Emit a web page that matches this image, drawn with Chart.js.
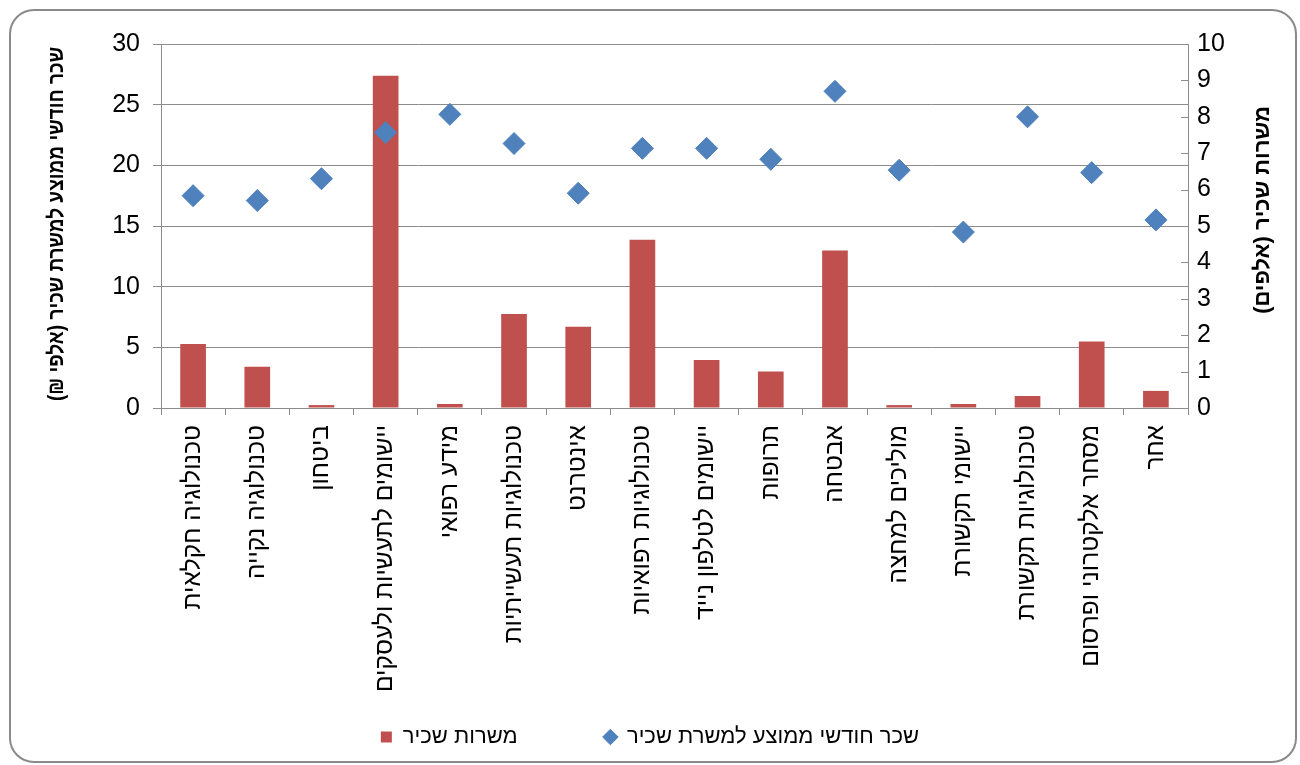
<!DOCTYPE html>
<html lang="he">
<head>
<meta charset="utf-8">
<title>משרות שכיר ושכר חודשי ממוצע לפי תחום</title>
<script src="https://cdn.jsdelivr.net/npm/chart.js@4.4.1/dist/chart.umd.min.js"></script>
<style>
  html, body { margin: 0; padding: 0; background: #fff; }
  canvas { display: block; }
</style>
</head>
<body>
<canvas id="chart" width="1300" height="765"></canvas>
<script>
// categories in the order they appear, left to right
const categories = [
  'טכנולוגיה חקלאית',
  'טכנולוגיה נקייה',
  'ביטחון',
  'יישומים לתעשיות ולעסקים',
  'מידע רפואי',
  'טכנולוגיות תעשייתיות',
  'אינטרנט',
  'טכנולוגיות רפואיות',
  'יישומים לטלפון נייד',
  'תרופות',
  'אבטחה',
  'מוליכים למחצה',
  'יישומי תקשורת',
  'טכנולוגיות תקשורת',
  'מסחר אלקטרוני ופרסום',
  'אחר'
];

// משרות שכיר (אלפים) - right axis
const jobs = [1.76, 1.13, 0.08, 9.13, 0.11, 2.58, 2.23, 4.62, 1.32, 1.0, 4.33, 0.08, 0.11, 0.33, 1.83, 0.47];

// שכר חודשי ממוצע למשרת שכיר (אלפי ₪) - left axis
const wages = [17.5, 17.1, 18.9, 22.7, 24.2, 21.8, 17.7, 21.4, 21.4, 20.5, 26.1, 19.6, 14.5, 24.0, 19.4, 15.5];

const jobsLabel = 'משרות שכיר';
const wagesLabel = 'שכר חודשי ממוצע למשרת שכיר';
const leftTitle = 'שכר חודשי ממוצע למשרת שכיר (אלפי ₪)';
const rightTitle = 'משרות שכיר (אלפים)';

const gridColor = '#8c8c8c';
const fontFamily = '"Liberation Sans", Arial, "DejaVu Sans", sans-serif';

Chart.defaults.font.family = fontFamily;
Chart.defaults.color = '#000';

// frame, axis titles (both read top to bottom) and inner ticks of right axis
const decorations = {
  id: 'decorations',
  beforeDraw(chart) {
    const ctx = chart.ctx;
    ctx.save();
    ctx.fillStyle = '#fff';
    ctx.fillRect(0, 0, chart.width, chart.height);
    const x = 10, y = 10, w = 1286, h = 752, r = 24;
    ctx.beginPath();
    ctx.moveTo(x + r, y);
    ctx.arcTo(x + w, y, x + w, y + h, r);
    ctx.arcTo(x + w, y + h, x, y + h, r);
    ctx.arcTo(x, y + h, x, y, r);
    ctx.arcTo(x, y, x + w, y, r);
    ctx.closePath();
    ctx.strokeStyle = '#8a8a8a';
    ctx.lineWidth = 2;
    ctx.stroke();
    ctx.restore();
  },
  afterDraw(chart) {
    const {ctx, chartArea, scales} = chart;
    ctx.save();
    ctx.strokeStyle = gridColor;
    ctx.lineWidth = 1;
    scales.y1.ticks.forEach(t => {
      const py = Math.round(scales.y1.getPixelForValue(t.value)) + 0.5;
      ctx.beginPath();
      ctx.moveTo(chartArea.right - 7, py);
      ctx.lineTo(chartArea.right, py);
      ctx.stroke();
    });

    ctx.fillStyle = '#000';
    ctx.direction = 'rtl';
    ctx.textAlign = 'center';
    ctx.textBaseline = 'middle';
    ctx.font = 'bold 22px ' + fontFamily;

    // left title is set a little condensed in the original
    ctx.save();
    ctx.translate(57, 224);
    ctx.rotate(-Math.PI / 2);
    const lw = ctx.measureText(leftTitle).width;
    ctx.scale(Math.min(1, 354 / lw), 1);
    ctx.fillText(leftTitle, 0, 0);
    ctx.restore();

    ctx.save();
    ctx.translate(1263, 210);
    ctx.rotate(-Math.PI / 2);
    ctx.fillText(rightTitle, 0, 0);
    ctx.restore();

    ctx.restore();
  }
};

new Chart(document.getElementById('chart'), {
  data: {
    labels: categories,
    datasets: [
      {
        type: 'line',
        label: wagesLabel,
        data: wages,
        yAxisID: 'y',
        showLine: false,
        pointStyle: 'rectRot',
        pointRadius: 11,
        pointHoverRadius: 11,
        backgroundColor: '#4F81BD',
        borderColor: '#4F81BD',
        borderWidth: 1,
        order: 0
      },
      {
        type: 'bar',
        label: jobsLabel,
        data: jobs,
        yAxisID: 'y1',
        backgroundColor: '#C0504D',
        borderWidth: 0,
        pointStyle: 'rect',
        categoryPercentage: 1,
        barPercentage: 0.4,
        order: 1
      }
    ]
  },
  options: {
    responsive: false,
    animation: false,
    devicePixelRatio: 1,
    layout: { padding: { top: 44, left: 0, right: 0, bottom: 7 } },
    plugins: {
      tooltip: { enabled: false },
      legend: {
        position: 'bottom',
        reverse: true,
        labels: {
          usePointStyle: true,
          boxWidth: 11,
          boxHeight: 11,
          padding: 20,
          font: { size: 22 },
          color: '#000',
          generateLabels(chart) {
            const items = Chart.defaults.plugins.legend.labels.generateLabels(chart);
            // wider gap after the bar item, as in the original legend
            items.forEach(it => {
              if (it.datasetIndex === 1) it.text = it.text + ' '.repeat(11);
            });
            return items;
          }
        }
      }
    },
    scales: {
      x: {
        offset: true,
        grid: {
          offset: true,
          drawOnChartArea: false,
          drawTicks: true,
          tickLength: 7,
          color: gridColor
        },
        border: { color: gridColor },
        ticks: {
          autoSkip: false,
          minRotation: 90,
          maxRotation: 90,
          padding: 10,
          font: { size: 24.5 }
        },
        afterFit(scale) { scale.height = 298; }
      },
      y: {
        position: 'left',
        min: 0,
        max: 30,
        ticks: { stepSize: 5, padding: 13, font: { size: 25 } },
        grid: { color: gridColor, tickLength: 8 },
        border: { color: gridColor },
        afterFit(scale) { scale.width = 161; }
      },
      y1: {
        position: 'right',
        min: 0,
        max: 10,
        ticks: { stepSize: 1, padding: 9, font: { size: 25 } },
        grid: { drawOnChartArea: false, drawTicks: false },
        border: { color: gridColor },
        afterFit(scale) { scale.width = 112; }
      }
    }
  },
  plugins: [decorations]
});
</script>
</body>
</html>
